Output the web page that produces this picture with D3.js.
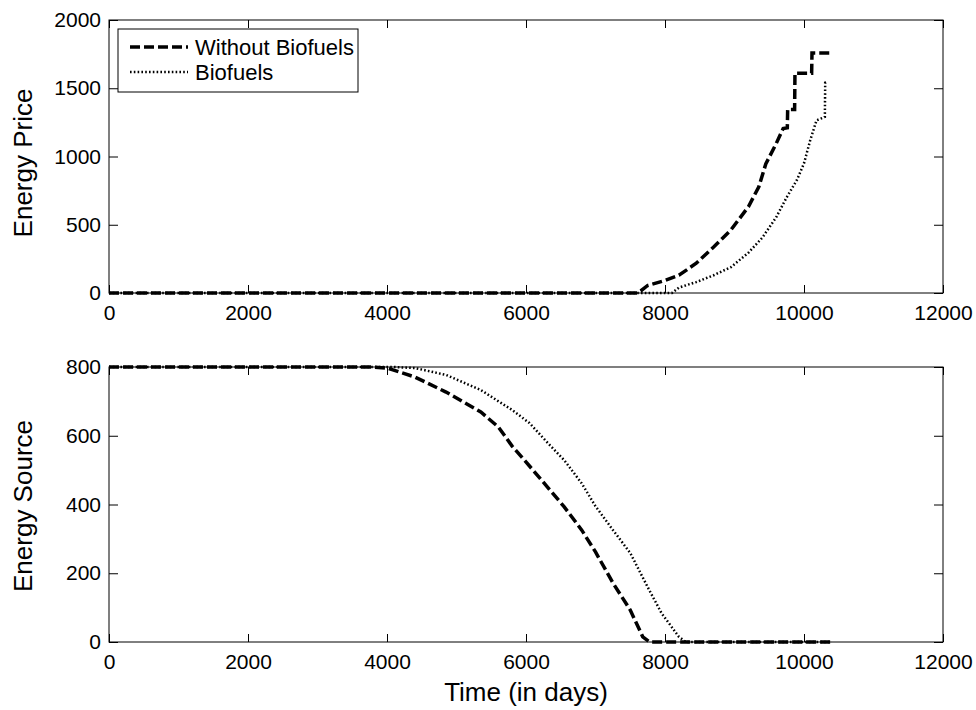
<!DOCTYPE html>
<html>
<head>
<meta charset="utf-8">
<script src="https://cdn.jsdelivr.net/npm/d3@7"></script>
<style>
  body { margin: 0; background: #fff; }
  svg text { font-family: "Liberation Sans", Arial, sans-serif; fill: #000; }
</style>
</head>
<body>
<div id="chart"></div>
<script>
// price panel, "Without Biofuels" (dashed)
var priceDaysWithout = [0, 7600, 7650, 7750, 8000, 8200, 8450, 8700, 8950, 9200, 9350, 9450, 9600, 9700, 9760, 9765, 9865, 9870, 10110, 10115, 10400]
var priceWithout     = [0, 0, 15, 55, 92, 130, 218, 337, 463, 632, 778, 945, 1095, 1205, 1210, 1345, 1345, 1610, 1610, 1758, 1758]
// price panel, "Biofuels" (dotted)
var priceDaysBio = [0, 8100, 8200, 8450, 8700, 8950, 9200, 9400, 9600, 9750, 9900, 10000, 10090, 10180, 10300, 10305, 10340]
var priceBio     = [0, 0, 40, 80, 130, 190, 295, 405, 555, 700, 830, 950, 1120, 1265, 1290, 1540, 1545]

// source panel
var sourceDaysWithout = [0, 3800, 4000, 4400, 4850, 5350, 5600, 5800, 6050, 6300, 6550, 6800, 7000, 7250, 7500, 7680, 7780, 10400]
var sourceWithout     = [800, 800, 797, 771, 727, 669, 626, 570, 512, 453, 393, 326, 262, 172, 93, 15, 0, 0]
var sourceDaysBio = [0, 4100, 4400, 4850, 5350, 5800, 6050, 6300, 6550, 6800, 7000, 7250, 7500, 7750, 7950, 8200, 8300, 10400]
var sourceBio     = [800, 800, 797, 777, 733, 675, 637, 582, 529, 462, 395, 326, 259, 160, 84, 15, 0, 0]

var xTicks = [0, 2000, 4000, 6000, 8000, 10000, 12000]
var priceTicks = [0, 500, 1000, 1500, 2000]
var sourceTicks = [0, 200, 400, 600, 800]

var width = 976, height = 710
var left = 109, right = 943

var svg = d3.select('#chart').append('svg')
    .attr('width', width)
    .attr('height', height)

svg.append('rect').attr('width', width).attr('height', height).attr('fill', '#fff')

var x = d3.scaleLinear().domain([0, 12000]).range([left, right])
var fmt = d3.format('d')

function zip(xs, ys){
  return xs.map(function(d, i){ return [d, ys[i]] })
}

function panel(top, bottom, yMax, yTicks, series, label, labelY){
  var y = d3.scaleLinear().domain([0, yMax]).range([bottom, top])
  var g = svg.append('g')

  var line = d3.line()
      .x(function(d){ return x(d[0]) })
      .y(function(d){ return y(d[1]) })

  series.forEach(function(s){
    g.append('path')
      .datum(s.data)
      .attr('fill', 'none')
      .attr('stroke', '#000')
      .attr('stroke-width', s.w)
      .attr('stroke-dasharray', s.dash)
      .attr('d', line)
  })

  // ticks point inward on all four sides, labels only bottom/left
  g.append('g').attr('transform', 'translate(0,' + bottom + ')')
      .call(d3.axisBottom(x).tickValues(xTicks).tickFormat(fmt).tickSizeInner(-8).tickSizeOuter(0).tickPadding(12))
  g.append('g').attr('transform', 'translate(0,' + top + ')')
      .call(d3.axisTop(x).tickValues(xTicks).tickSizeInner(-8).tickSizeOuter(0).tickFormat(''))
  g.append('g').attr('transform', 'translate(' + left + ',0)')
      .call(d3.axisLeft(y).tickValues(yTicks).tickFormat(fmt).tickSizeInner(-9).tickSizeOuter(0).tickPadding(8))
  g.append('g').attr('transform', 'translate(' + right + ',0)')
      .call(d3.axisRight(y).tickValues(yTicks).tickSizeInner(-9).tickSizeOuter(0).tickFormat(''))

  g.selectAll('.domain').remove()
  g.selectAll('.tick line').attr('stroke', '#000')
  g.selectAll('.tick text').style('font-size', '21px')

  g.append('rect')
    .attr('x', left).attr('y', top)
    .attr('width', right - left).attr('height', bottom - top)
    .attr('fill', 'none').attr('stroke', '#000').attr('stroke-width', 1)

  g.append('text')
    .attr('transform', 'translate(32,' + labelY + ') rotate(-90)')
    .attr('text-anchor', 'middle')
    .style('font-size', '26px')
    .text(label)

  return y
}

var dashed = { w: 3.5, dash: '10,4' }
var dotted = { w: 2.5, dash: '1.6,2.2' }

panel(20, 293, 2000, priceTicks, [
  { data: zip(priceDaysWithout, priceWithout), w: dashed.w, dash: dashed.dash },
  { data: zip(priceDaysBio, priceBio), w: dotted.w, dash: dotted.dash }
], 'Energy Price', 163)

panel(367, 642, 800, sourceTicks, [
  { data: zip(sourceDaysWithout, sourceWithout), w: dashed.w, dash: dashed.dash },
  { data: zip(sourceDaysBio, sourceBio), w: dotted.w, dash: dotted.dash }
], 'Energy Source', 506)

svg.append('text')
  .attr('x', (left + right) / 2)
  .attr('y', 701)
  .attr('text-anchor', 'middle')
  .style('font-size', '26px')
  .text('Time (in days)')

// legend
var legend = svg.append('g')
legend.append('rect')
  .attr('x', 118).attr('y', 29).attr('width', 240).attr('height', 63)
  .attr('fill', '#fff').attr('stroke', '#000').attr('stroke-width', 1)

var legendItems = [
  { name: 'Without Biofuels', style: dashed, y: 47 },
  { name: 'Biofuels', style: dotted, y: 72 }
]
legendItems.forEach(function(d){
  legend.append('line')
    .attr('x1', 130).attr('x2', 188).attr('y1', d.y).attr('y2', d.y)
    .attr('stroke', '#000').attr('stroke-width', d.style.w)
    .attr('stroke-dasharray', d.style.dash)
  legend.append('text')
    .attr('x', 195).attr('y', d.y + 8)
    .style('font-size', '22px')
    .text(d.name)
})
</script>
</body>
</html>
